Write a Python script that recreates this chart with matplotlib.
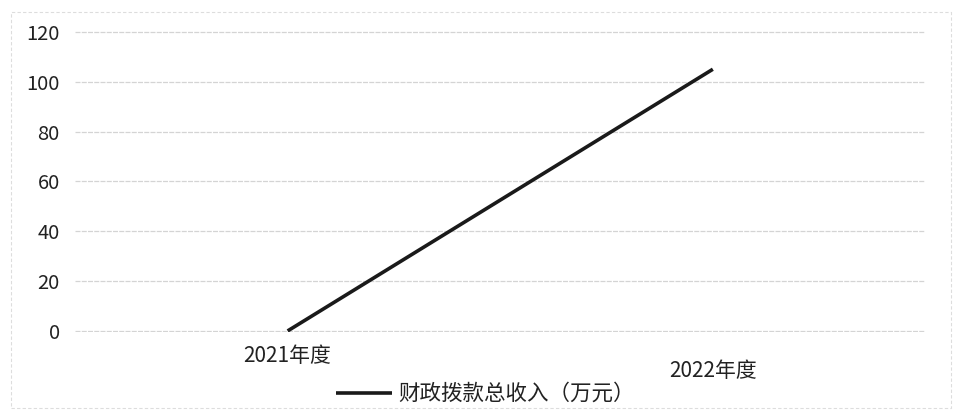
"""
财政拨款总收入折线图 (2021-2022年度).
"""
import matplotlib
matplotlib.use('Agg')
import matplotlib.pyplot as plt
from matplotlib.patches import Rectangle

plt.rcParams['font.family'] = ['Noto Sans CJK SC', 'DejaVu Sans']

# Data
categories = ['2021年度', '2022年度']
income = [0, 105]
series_name = '财政拨款总收入（万元）'
y_ticks = [0, 20, 40, 60, 80, 100, 120]

fig = plt.figure(figsize=(9.62, 4.17), dpi=100)
ax = fig.add_axes([0.078, 0.204, 0.884, 0.722])

x = list(range(len(categories)))
line, = ax.plot(x, income, color='#1a1a1a', linewidth=2.6, solid_capstyle='butt')

ax.set_xlim(-0.5, len(categories) - 0.5)
ax.set_ylim(-0.4, 120.4)
ax.set_yticks(y_ticks)
ax.set_yticklabels([str(v) for v in y_ticks], fontsize=14.5, color='#222222')
ax.tick_params(axis='y', length=0, pad=11)
ax.grid(axis='y', color='#d4d4d4', linewidth=0.9, linestyle=(0, (4, 1)))
ax.set_axisbelow(True)

ax.set_xticks(x)
ax.set_xticklabels([])
ax.tick_params(axis='x', length=0)
# category labels, the second one sits a bit lower as in the source
offsets = [-0.08, -0.13]
for xi, label, off in zip(x, categories, offsets):
    ax.text(xi, off, label, transform=ax.get_xaxis_transform(),
            ha='center', va='center', fontsize=15, color='#222222')

for spine in ax.spines.values():
    spine.set_visible(False)

fig.legend([line], [series_name], loc='center', bbox_to_anchor=(0.505, 0.055),
           frameon=False, fontsize=15.5, handlelength=2.6, handletextpad=0.3,
           labelcolor='#222222')

# faint outer chart border
fig.patches.append(Rectangle((0.011, 0.022), 0.978, 0.95, transform=fig.transFigure,
                             fill=False, edgecolor='#dddddd', linewidth=0.8,
                             linestyle=(0, (3, 2))))

fig.savefig('out.png', dpi=100)
